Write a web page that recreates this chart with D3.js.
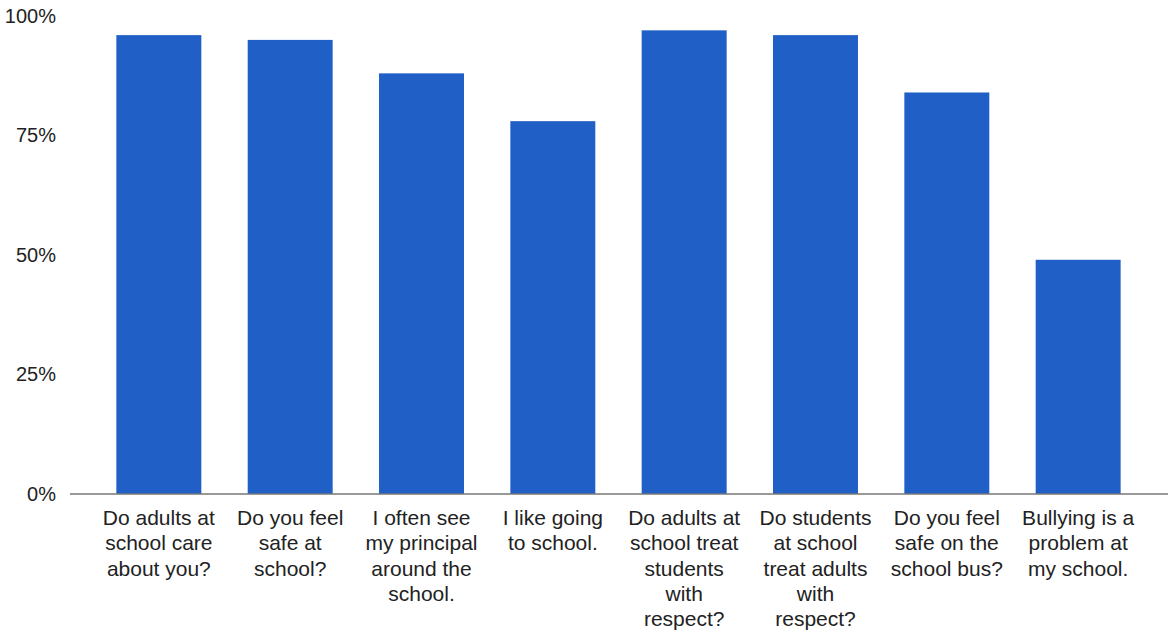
<!DOCTYPE html>
<html>
<head>
<meta charset="utf-8">
<script src="https://cdn.jsdelivr.net/npm/d3@7"></script>
<style>
  html, body { margin: 0; padding: 0; background: #fff; }
  svg { display: block; font-family: "Liberation Sans", Arial, sans-serif; }
</style>
</head>
<body>
<svg id="chart" width="1168" height="633"></svg>
<script>
// Survey questions (line breaks mark how each label wraps)
const categories = [
  "Do adults at\nschool care\nabout you?",
  "Do you feel\nsafe at\nschool?",
  "I often see\nmy principal\naround the\nschool.",
  "I like going\nto school.",
  "Do adults at\nschool treat\nstudents\nwith\nrespect?",
  "Do students\nat school\ntreat adults\nwith\nrespect?",
  "Do you feel\nsafe on the\nschool bus?",
  "Bullying is a\nproblem at\nmy school."
];
// Share of "yes" answers, in percent
const values = [96, 95, 88, 78, 97, 96, 84, 49];
const yTicks = [0, 25, 50, 75, 100];

const svg = d3.select("#chart");

const x = d3.scaleBand()
  .domain(categories)
  .range([70, 1167])
  .paddingInner(0.353)
  .paddingOuter(0.353);

const y = d3.scaleLinear()
  .domain([0, 100])
  .range([494, 16]);

// Bars
svg.append("g")
  .selectAll("rect")
  .data(values)
  .join("rect")
  .attr("x", (d, i) => x(categories[i]))
  .attr("y", d => y(d))
  .attr("width", x.bandwidth())
  .attr("height", d => y(0) - y(d))
  .attr("fill", "#1f5fc6");

// Y axis labels only (no line, no tick marks)
const yAxis = svg.append("g")
  .attr("transform", "translate(56,0)")
  .call(d3.axisLeft(y).tickValues(yTicks).tickFormat(d => d + "%").tickSize(0).tickPadding(0));
yAxis.select(".domain").remove();
yAxis.selectAll("text")
  .attr("font-size", 20)
  .attr("font-family", "'Liberation Sans', Arial, sans-serif")
  .attr("fill", "#222");

// Baseline
svg.append("line")
  .attr("x1", 70).attr("x2", 1168)
  .attr("y1", y(0)).attr("y2", y(0))
  .attr("stroke", "#777")
  .attr("stroke-width", 1.6);

// Wrapped category labels
const labels = svg.append("g")
  .selectAll("text")
  .data(categories)
  .join("text")
  .attr("text-anchor", "middle")
  .attr("font-size", 21)
  .attr("fill", "#222")
  .attr("transform", d => `translate(${x(d) + x.bandwidth() / 2},525)`);

labels.selectAll("tspan")
  .data(d => d.split("\n"))
  .join("tspan")
  .attr("x", 0)
  .attr("y", (d, i) => i * 25.3)
  .text(d => d);
</script>
</body>
</html>
